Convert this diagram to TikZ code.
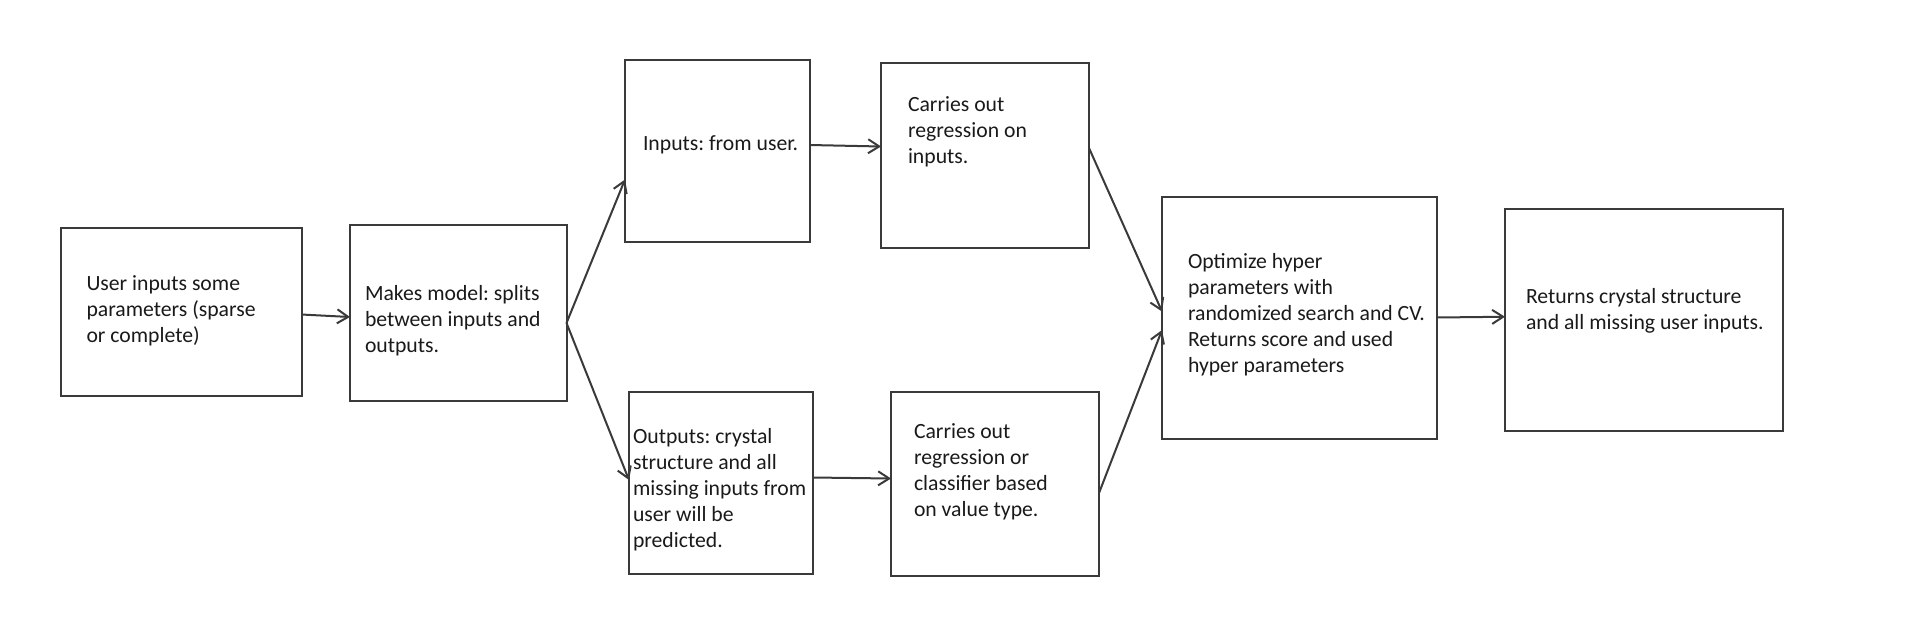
\documentclass[tikz,border=0pt]{standalone}
\usepackage{fontspec}
\setmainfont{Carlito}
\usetikzlibrary{arrows.meta}
\definecolor{boxline}{HTML}{3A3A3A}
\definecolor{txt}{HTML}{1A1A1A}
\tikzset{
  box/.style={draw=boxline, line width=2pt, rectangle, inner sep=0pt, outer sep=0pt},
  lbl/.style={anchor=north west, inner sep=0pt, outer sep=0pt, align=left, text=txt,
              font=\fontsize{21.7}{26}\selectfont\frenchspacing},
  conn/.style={draw=boxline, line width=2pt, -{Straight Barb[length=11pt,width=14pt,line width=2pt]}}
}
\begin{document}
\begin{tikzpicture}[x=1pt,y=-1pt]
\fill[white] (0,0) rectangle (1914,622);
\useasboundingbox (0,0) rectangle (1914,622);

% boxes
\node[box, minimum width=240.5pt, minimum height=167.5pt] (b1) at (181.25,311.75) {};
\node[box, minimum width=216.5pt, minimum height=176pt]   (b2) at (458.25,313) {};
\node[box, minimum width=185pt,   minimum height=181.5pt] (b3) at (717.5,150.75) {};
\node[box, minimum width=208pt,   minimum height=185pt]   (b4) at (985,155) {};
\node[box, minimum width=184pt,   minimum height=181.5pt] (b5) at (721,482.75) {};
\node[box, minimum width=208pt,   minimum height=184pt]   (b6) at (995,484) {};
\node[box, minimum width=274.5pt, minimum height=242pt]   (b7) at (1299.25,318) {};
\node[box, minimum width=278pt,   minimum height=221.5pt] (b8) at (1644,319.75) {};

% texts
\node[lbl] (t1) at (86.5,271.8) {\strut User inputs some\\parameters (sparse\\or complete)};
\node[lbl] (t2) at (365,281.8) {\strut Makes model: splits\\between inputs and\\outputs.};
\node[lbl] (t3) at (643,131.8) {\strut Inputs: from user.};
\node[lbl] (t4) at (908,93.5) {\strut Carries out\\regression on\\inputs.};
\node[lbl] (t5) at (633,425.1) {\strut Outputs: crystal\\structure and all\\missing inputs from\\user will be\\predicted.};
\node[lbl] (t6) at (914,420.1) {\strut Carries out\\regression or\\classifier based\\on value type.};
\node[lbl] (t7) at (1188,250.1) {\strut Optimize hyper\\parameters with\\randomized search and CV.\\Returns score and used\\hyper parameters};
\node[lbl] (t8) at (1526,285.1) {\strut Returns crystal structure\\and all missing user inputs.};

% connectors
\draw[conn] ([yshift=-2.75pt]b1.east) -- ([yshift=-4pt]b2.west);
\draw[conn] ([yshift=-10pt]b2.east) -- ([yshift=-28.75pt]b3.west);
\draw[conn] ([yshift=-10pt]b2.east) -- ([yshift=2.75pt]b5.west);
\draw[conn] ([yshift=5.75pt]b3.east) -- ([yshift=8.5pt]b4.west);
\draw[conn] ([yshift=5.25pt]b5.east) -- ([yshift=5.5pt]b6.west);
\draw[conn] ([yshift=7pt]b4.east) -- ([yshift=6.5pt]b7.west);
\draw[conn] ([yshift=-9pt]b6.east) -- ([yshift=-12pt]b7.west);
\draw[conn] ([yshift=0.5pt]b7.east) -- ([yshift=3pt]b8.west);
\end{tikzpicture}
\end{document}
